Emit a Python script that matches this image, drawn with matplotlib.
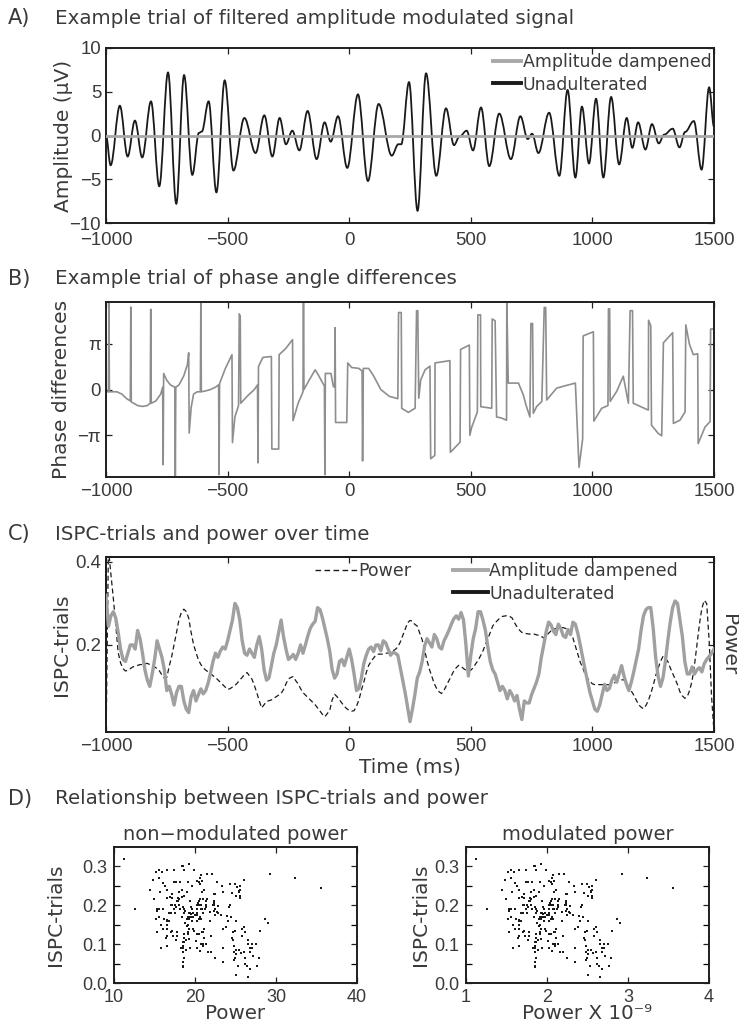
import numpy as np
import matplotlib.pyplot as plt
from matplotlib.path import Path
from matplotlib.patches import PathPatch
from matplotlib.lines import Line2D

# ---- A) one trial of the filtered signal: peaks / troughs (ms, uV)
sig_t = [-1000, -981, -943, -911, -881, -851, -815, -781, -745, -711, -679, -645,
         -618, -606, -578, -546, -512, -476, -431, -385, -349, -316, -286, -260,
         -234, -205, -171, -134, -101, -76, -46, -8, 36, 77, 121, 175, 202, 214,
         246, 281, 316, 358, 398, 431, 453, 483, 509, 542, 576, 617, 665, 704,
         734, 752, 778, 822, 864, 898, 930, 957, 986, 1015, 1045, 1077, 1110,
         1141, 1164, 1188, 1218, 1245, 1273, 1295, 1330, 1358, 1381, 1417, 1449,
         1480, 1500]
sig_v = [0.0, -3.4, 3.4, -2.4, 1.7, -2.5, 3.9, -5.8, 7.2, -7.8, 6.9, -4.5,
         0.3, 0.45, 3.9, -6.5, 6.3, -4.0, 2.0, -2.0, 2.3, -2.4, 2.0, -1.0,
         0.55, -1.7, 2.8, -2.7, 1.5, -0.7, 2.2, -3.7, 4.7, -5.2, 3.6, -2.3, -1.0, -1.0,
         6.1, -8.6, 7.1, -4.6, 3.1, -1.1, -0.14, 0.55, -1.7, 3.2, -3.5, 2.5, -2.7, 2.2,
         -0.4, 0.2, -2.0, 2.6, -4.6, 5.2, -4.8, 3.3, -3.2, 4.2, -4.8, 4.4, -3.3,
         2.0, -1.4, 1.5, -1.6, 1.3, -0.9, 0.1, 0.78, -1.35, 0.4, 1.65, -3.9,
         5.5, 1.0]
damp_t = [-1000, 1500]
damp_v = [0.0, 0.0]

# ---- B) phase angle differences: (ms, multiples of pi)
phase = [(-1000, -0.05), (-990, -0.05), (-988, 1.92), (-986, -0.05), (-955, -0.05),
         (-935, -0.1), (-915, -0.2), (-900, -0.25), (-898, 1.8), (-896, -0.27),
         (-870, -0.35), (-850, -0.37), (-830, -0.35), (-818, -0.3), (-816, 1.75),
         (-814, -0.3), (-795, -0.25), (-775, -0.1), (-767, 0.05), (-765, -1.64),
         (-763, 0.35), (-750, 0.2), (-735, 0.1), (-717, 0.05), (-715, -1.92),
         (-713, 0.05), (-700, 0.1), (-680, 0.3), (-665, 0.55), (-660, 0.8),
         (-658, -0.95), (-650, -0.4), (-640, -0.1), (-625, -0.05), (-612, -0.05),
         (-610, 1.9), (-608, -0.05), (-590, -0.03), (-570, 0.0), (-550, 0.05),
         (-537, 0.1), (-535, -1.86), (-533, 0.13), (-510, 0.45), (-482, 0.76),
         (-480, -1.16), (-470, -0.6), (-455, -0.35), (-452, 1.65), (-448, 1.6),
         (-446, -0.3), (-420, -0.15), (-390, 0.0), (-377, 0.1), (-375, -1.6),
         (-373, 0.5), (-355, 0.7), (-320, 0.72), (-318, -1.3), (-290, -1.3),
         (-288, 0.76), (-260, 0.9), (-233, 1.09), (-231, -0.68), (-210, -0.3),
         (-190, -0.05), (-188, 1.98), (-186, 0.0), (-165, 0.2), (-140, 0.43),
         (-125, 0.3), (-110, 0.15), (-102, 0.08), (-100, -1.86), (-98, 0.35),
         (-75, 0.35), (-65, 0.06), (-60, 0.06), (-58, 1.35), (-56, -0.72),
         (-10, -0.72), (-6, 0.58), (10, 0.48), (40, 0.46), (53, 0.4), (55, -1.56),
         (58, 0.46), (80, 0.46), (100, 0.3), (130, 0.0), (165, -0.15), (200, -0.2),
         (203, 1.68), (214, 1.68), (216, -0.41), (243, -0.5), (271, -0.41),
         (277, 1.72), (282, 1.72), (286, -0.19), (294, 0.21), (312, 0.43),
         (332, 0.51), (335, -1.51), (352, -1.44), (353, 0.58), (414, 0.63),
         (416, -1.37), (456, -1.15), (458, 0.875), (494, 0.97), (496, -1.0),
         (504, -0.82), (527, -0.49), (529, 1.63), (540, 1.63), (541, -0.375),
         (586, -0.41), (588, 1.54), (600, 1.5), (606, -0.6), (625, -0.62),
         (647, -0.67), (648, 1.94), (654, 0.14), (696, 0.14), (716, -0.12),
         (727, -0.34), (743, -0.6), (747, 1.44), (754, 1.44), (757, -0.52),
         (771, -0.37), (792, -0.26), (802, 1.79), (808, 1.79), (812, -0.23),
         (853, 0.03), (894, 0.09), (930, 0.14), (945, -1.7), (960, -1.07),
         (962, 1.17), (1004, 1.26), (1006, -0.69), (1038, -0.41), (1064, -0.35),
         (1066, 1.76), (1071, 1.76), (1073, -0.26), (1100, -0.04), (1127, 0.29),
         (1148, -0.3), (1155, 1.72), (1165, 1.72), (1168, -0.3), (1230, -0.45),
         (1231, 1.51), (1240, 1.39), (1243, -0.78), (1271, -0.96), (1285, -1.01),
         (1292, 1.02), (1330, 1.24), (1333, -0.74), (1360, -0.67), (1381, -0.49),
         (1384, 1.41), (1399, 0.99), (1415, 0.76), (1433, 0.78), (1435, -1.18),
         (1463, -0.82), (1484, -0.7), (1486, 1.32), (1500, 1.32)]

# ---- C) ISPC over trials and power, 10 ms steps
t_c = list(range(-1000, 1501, 10))
ispc = [0.32, 0.245, 0.27, 0.28, 0.265, 0.23, 0.19, 0.165, 0.16, 0.18,
        0.2, 0.2, 0.19, 0.235, 0.215, 0.18, 0.14, 0.115, 0.1, 0.13,
        0.165, 0.21, 0.19, 0.17, 0.14, 0.09, 0.1, 0.08, 0.055, 0.085,
        0.1, 0.1, 0.065, 0.045, 0.037, 0.075, 0.09, 0.065, 0.08, 0.094,
        0.082, 0.09, 0.108, 0.133, 0.16, 0.18, 0.17, 0.185, 0.195, 0.19,
        0.21, 0.235, 0.26, 0.3, 0.29, 0.26, 0.21, 0.18, 0.175, 0.19,
        0.18, 0.17, 0.2, 0.22, 0.19, 0.14, 0.115, 0.12, 0.15, 0.18,
        0.2, 0.23, 0.26, 0.22, 0.19, 0.165, 0.17, 0.177, 0.165, 0.18,
        0.2, 0.18, 0.2, 0.222, 0.24, 0.25, 0.257, 0.29, 0.285, 0.265,
        0.24, 0.215, 0.185, 0.14, 0.12, 0.13, 0.16, 0.165, 0.15, 0.17,
        0.19, 0.165, 0.13, 0.09, 0.095, 0.12, 0.155, 0.175, 0.19, 0.195,
        0.184, 0.2, 0.2, 0.186, 0.21, 0.205, 0.19, 0.175, 0.182, 0.18,
        0.175, 0.145, 0.115, 0.085, 0.05, 0.015, 0.045, 0.08, 0.12, 0.135,
        0.16, 0.197, 0.215, 0.205, 0.195, 0.225, 0.215, 0.195, 0.19, 0.21,
        0.222, 0.235, 0.25, 0.263, 0.27, 0.262, 0.278, 0.26, 0.2, 0.125,
        0.175, 0.215, 0.24, 0.28, 0.28, 0.26, 0.235, 0.195, 0.16, 0.14,
        0.13, 0.11, 0.09, 0.1, 0.09, 0.07, 0.09, 0.08, 0.065, 0.078,
        0.045, 0.02, 0.065, 0.06, 0.06, 0.08, 0.095, 0.11, 0.13, 0.17,
        0.2, 0.232, 0.255, 0.248, 0.233, 0.225, 0.25, 0.24, 0.222, 0.218,
        0.237, 0.225, 0.255, 0.25, 0.228, 0.2, 0.17, 0.14, 0.113, 0.085,
        0.065, 0.045, 0.04, 0.055, 0.08, 0.105, 0.09, 0.095, 0.115, 0.127,
        0.11, 0.13, 0.15, 0.125, 0.105, 0.09, 0.11, 0.135, 0.163, 0.19,
        0.235, 0.27, 0.285, 0.29, 0.29, 0.24, 0.17, 0.125, 0.1, 0.12,
        0.16, 0.21, 0.255, 0.29, 0.306, 0.3, 0.26, 0.22, 0.16, 0.13,
        0.13, 0.147, 0.13, 0.14, 0.145, 0.135, 0.155, 0.165, 0.172, 0.18,
        0.19]
power = [11.2, 35.5, 32.3, 29.3, 26.0, 22.5, 21.2, 20.5, 20.2, 20.3,
         20.5, 20.7, 20.8, 20.9, 21.0, 21.0, 21.1, 21.15, 21.0, 20.9,
         20.7, 20.5, 20.2, 19.7, 19.3, 19.4, 20.8, 22.0, 23.5, 25.0,
         26.6, 27.5, 27.9, 27.6, 26.8, 25.0, 23.5, 22.5, 21.6, 21.0,
         20.6, 20.3, 20.1, 19.9, 19.6, 19.4, 19.1, 18.8, 18.5, 18.2,
         17.9, 18.0, 18.2, 18.4, 18.7, 19.1, 19.4, 19.8, 20.0, 19.6,
         19.2, 18.4, 17.5, 16.5, 15.6, 16.0, 16.4, 16.5, 16.6, 16.8,
         17.0, 17.2, 17.4, 17.9, 18.6, 19.2, 19.4, 19.5, 19.0, 18.6,
         18.0, 17.5, 17.2, 16.9, 16.6, 16.3, 16.0, 15.6, 15.2, 14.8,
         14.5, 14.9, 15.3, 16.6, 17.3, 17.0, 16.6, 16.2, 15.8, 15.5,
         15.3, 15.2, 15.25, 15.8, 16.6, 17.8, 18.8, 20.0, 20.9, 21.4,
         21.8, 22.2, 22.3, 22.3, 22.3, 22.4, 22.45, 22.5, 22.7, 22.9,
         23.2, 23.8, 24.6, 25.4, 26.2, 26.5, 26.4, 26.0, 25.8, 24.9,
         24.1, 22.8, 21.5, 20.4, 19.5, 18.6, 18.0, 17.6, 17.4, 17.8,
         18.4, 19.0, 19.6, 20.2, 20.6, 20.9, 20.8, 20.5, 20.3, 20.2,
         20.3, 20.6, 21.1, 21.5, 22.1, 22.7, 23.5, 24.2, 25.0, 25.8,
         26.2, 26.5, 26.8, 27.0, 27.05, 27.1, 27.0, 26.8, 26.2, 25.7,
         25.3, 25.0, 24.9, 24.85, 24.8, 24.8, 24.8, 24.7, 24.65, 24.5,
         24.3, 24.6, 24.9, 25.2, 25.4, 25.5, 25.6, 25.6, 25.6, 25.5,
         25.4, 25.0, 24.3, 23.3, 22.3, 21.3, 20.6, 19.8, 19.3, 18.9,
         18.6, 18.5, 18.5, 18.5, 18.5, 18.5, 18.5, 18.5, 18.6, 18.7,
         18.9, 19.1, 19.1, 19.1, 18.6, 18.3, 17.7, 17.2, 16.6, 16.0,
         15.7, 15.5, 15.9, 16.5, 17.4, 18.4, 19.6, 20.5, 21.4, 22.0,
         21.8, 21.4, 20.6, 19.9, 19.2, 18.5, 17.6, 17.1, 16.8, 17.0,
         17.8, 19.0, 21.0, 23.5, 26.0, 28.0, 29.0, 28.6, 24.0, 17.0,
         12.6]

TXT = '#3a3a3a'
LBL = dict(family='DejaVu Sans', color=TXT)
plt.rcParams['font.family'] = ['Liberation Sans', 'DejaVu Sans']
plt.rcParams['axes.linewidth'] = 1.4
TIME_TICKS = range(-1000, 1501, 500)
TIME_LABELS = ['\u22121000', '\u2212500', '0', '500', '1000', '1500']


def style(ax, xpad=4, size=13.4):
    ax.tick_params(direction='in', top=True, right=True, length=4, width=0.9,
                   color='#222222', labelcolor=TXT, labelsize=size)
    ax.tick_params(axis='x', pad=xpad)
    ax.tick_params(axis='y', pad=3.5)
    for s in ax.spines.values():
        s.set_color('#1e1e1e')


def smooth_path(ts, vs, k=0.36):
    # cubic segments with flat tangents at each peak / trough
    verts = [(ts[0], vs[0])]
    codes = [Path.MOVETO]
    for i in range(1, len(ts)):
        dt = ts[i] - ts[i - 1]
        verts += [(ts[i - 1] + k * dt, vs[i - 1]), (ts[i] - k * dt, vs[i]), (ts[i], vs[i])]
        codes += [Path.CURVE4] * 3
    return Path(verts, codes)


def legend(ax, handles, labels, x, hlen):
    return ax.legend(handles, labels, loc='upper left', bbox_to_anchor=(x, 1.0),
                     frameon=False, prop=dict(family='DejaVu Sans', size=12.5),
                     labelcolor=TXT, handlelength=hlen, handletextpad=0.1,
                     borderaxespad=0.15, borderpad=0.15, labelspacing=0.25)


fig = plt.figure(figsize=(7.39, 10.29), dpi=100)


def head(y, letter, text):
    fig.text(8 / 739, 1 - y / 1029, letter, fontsize=15, va='center', ha='left', **LBL)
    fig.text(55 / 739, 1 - y / 1029, text, fontsize=14.3, va='center', ha='left', **LBL)


def ylab(ax, text, x):
    ax.set_ylabel(text, fontsize=14.5, **LBL)
    ax.yaxis.set_label_coords(x, 0.5)


# A
axA = fig.add_axes([106 / 739, 1 - 223 / 1029, 608 / 739, 175 / 1029])
axA.add_patch(PathPatch(smooth_path(sig_t, sig_v), facecolor='none',
                        edgecolor='#1a1a1a', lw=1.3, zorder=2))
axA.plot(damp_t, damp_v, color='#a8a8a8', lw=2.0, zorder=3)
axA.set_xlim(-1000, 1500)
axA.set_ylim(-10, 10)
axA.set_xticks(TIME_TICKS)
axA.set_xticklabels(TIME_LABELS)
axA.set_yticks([-10, -5, 0, 5, 10])
axA.set_yticklabels(['\u221210', '\u22125', '0', '5', '10'])
ylab(axA, 'Amplitude (\u00b5V)', -0.054)
style(axA, xpad=6.5)
hA = [Line2D([], [], color='#a8a8a8', lw=2.8), Line2D([], [], color='#1a1a1a', lw=2.8)]
legend(axA, hA, ['Amplitude dampened', 'Unadulterated'], 0.628, 1.6)
head(18, 'A)', 'Example trial of filtered amplitude modulated signal')

# B
ph_t = [p[0] for p in phase]
ph_v = [p[1] for p in phase]
axB = fig.add_axes([106 / 739, 1 - 477 / 1029, 608 / 739, 175 / 1029])
axB.plot(ph_t, np.pi * np.array(ph_v), color='#8e8e8e', lw=1.2)
axB.set_xlim(-1000, 1500)
axB.set_ylim(-6, 6)
axB.set_xticks(TIME_TICKS)
axB.set_xticklabels(TIME_LABELS)
axB.set_yticks([-np.pi, 0, np.pi])
axB.set_yticklabels(['\u2212\u03c0', '0', '\u03c0'])
ylab(axB, 'Phase differences', -0.058)
style(axB)
head(279, 'B)', 'Example trial of phase angle differences')

# C
axC = fig.add_axes([106 / 739, 1 - 732 / 1029, 608 / 739, 175 / 1029])
axP = axC.twinx()
axC.plot(t_c, ispc, color='#1a1a1a', lw=1.2, zorder=2)
axC.plot(t_c, ispc, color='#a0a0a0', lw=2.4, zorder=3)
axP.plot(t_c, power, color='#1a1a1a', lw=0.9, ls=(0, (4, 2.5)))
axC.set_xlim(-1000, 1500)
axC.set_ylim(-0.01, 0.412)
axP.set_ylim(12.6, 34.4)
axP.set_yticks([])
axC.set_xticks(TIME_TICKS)
axC.set_xticklabels(TIME_LABELS)
axC.set_yticks([0.2, 0.4])
axC.set_yticklabels(['0.2', '0.4'])
ylab(axC, 'ISPC-trials', -0.058)
axC.set_xlabel('Time (ms)', fontsize=14.5, labelpad=2, **LBL)
axP.set_ylabel('Power', fontsize=14.5, rotation=270, va='center', **LBL)
axP.yaxis.set_label_coords(1.024, 0.5)
style(axC)
axC.set_zorder(axP.get_zorder() + 1)
axC.patch.set_visible(False)
hP = [Line2D([], [], color='#1a1a1a', lw=1.0, ls=(0, (4, 2.5)))]
legC = legend(axC, hA, ['Amplitude dampened', 'Unadulterated'], 0.562, 2.0)
axC.add_artist(legC)
legend(axC, hP, ['Power'], 0.335, 2.4)
head(534, 'C)', 'ISPC-trials and power over time')

# D: ISPC against power at each time step
pw = np.array(power)
for left, xs, xl, lim, title in [(114, pw, 'Power', (10, 40), 'non\u2212modulated power'),
                                 (466, pw / 10, 'Power X 10\u207b\u2079', (1, 4), 'modulated power')]:
    ax = fig.add_axes([left / 739, 1 - 983 / 1029, 243 / 739, 136 / 1029])
    ax.scatter(xs, ispc, s=4.5, marker='s', color='#1a1a1a', linewidths=0)
    ax.set_xlim(*lim)
    ax.set_ylim(0, 0.35)
    ticks = np.linspace(lim[0], lim[1], 4)
    ax.set_xticks(ticks)
    ax.set_xticklabels([f'{v:g}' for v in ticks])
    ax.set_yticks([0, 0.1, 0.2, 0.3])
    ax.set_yticklabels(['0.0', '0.1', '0.2', '0.3'])
    ax.set_yticks(np.arange(0.05, 0.35, 0.1), minor=True)
    style(ax, xpad=4, size=13)
    ax.tick_params(which='minor', direction='in', length=4, width=0.9, right=True, top=True)
    ax.tick_params(axis='y', pad=5)
    ax.set_title(title, fontsize=14, pad=5, **LBL)
    ax.set_xlabel(xl, fontsize=14.3, labelpad=-1, **LBL)
    ylab(ax, 'ISPC-trials', -0.15 if left > 300 else -0.2)
head(799, 'D)', 'Relationship between ISPC-trials and power')

fig.savefig('out.png', dpi=100)
